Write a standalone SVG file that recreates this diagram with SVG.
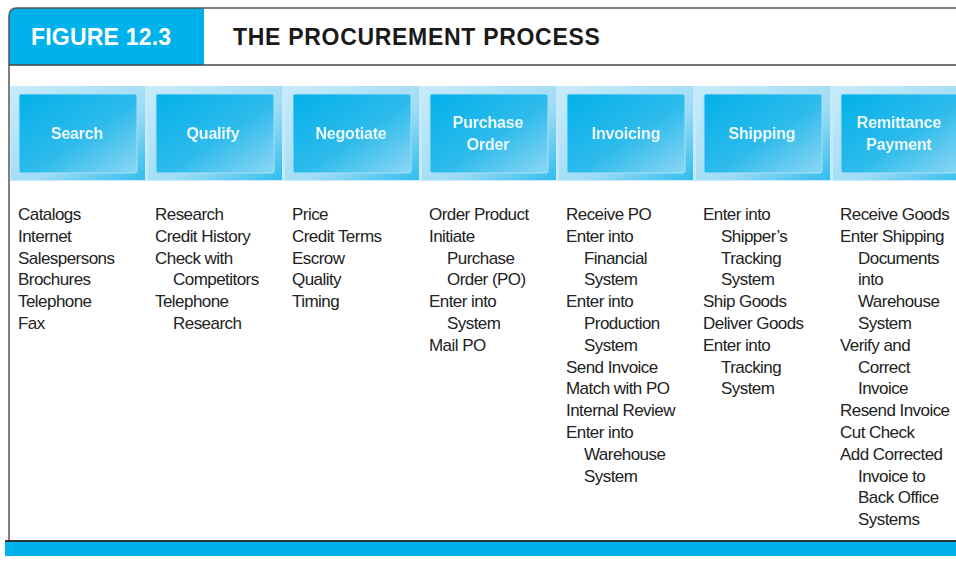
<svg xmlns="http://www.w3.org/2000/svg" width="956" height="564" viewBox="0 0 956 564">
<defs>
<linearGradient id="outerG" x1="0" y1="0" x2="1" y2="1">
<stop offset="0" stop-color="#c9ebfa"/>
<stop offset="0.6" stop-color="#9fdcf5"/>
<stop offset="1" stop-color="#2fbdee"/>
</linearGradient>
<linearGradient id="innerG" x1="0" y1="0" x2="1" y2="1">
<stop offset="0" stop-color="#03b0e9"/>
<stop offset="0.55" stop-color="#2ebbec"/>
<stop offset="1" stop-color="#8dd6f3"/>
</linearGradient>
<filter id="soft" x="-5%" y="-20%" width="110%" height="140%"><feGaussianBlur stdDeviation="0.5"/></filter>
</defs>
<style>
.hdr{font-family:"Liberation Sans",Arial,sans-serif;font-weight:bold;font-size:23px}
.lbl{font-family:"Liberation Sans",Arial,sans-serif;font-weight:bold;font-size:16px;fill:#eaf8fe;text-anchor:middle;letter-spacing:-0.2px}
.body{font-family:"Liberation Sans",Arial,sans-serif;font-size:17px;fill:#222;letter-spacing:-0.55px}
.outer{fill:url(#outerG)}
.inner{fill:url(#innerG);stroke:#a6e0f7;stroke-width:1}
</style>
<rect width="956" height="564" fill="#ffffff"/>
<!-- header -->
<path d="M9,65 V16 Q9,8 17,8 H204 V65 Z" fill="#00b2ec"/>
<path d="M9,541 V16 Q9,8 17,8 H956" fill="none" stroke="#555" stroke-width="1.5"/>
<line x1="9" y1="65" x2="956" y2="65" stroke="#444" stroke-width="1.5"/>
<text class="hdr" x="31" y="45" fill="#ffffff" letter-spacing="0.2">FIGURE 12.3</text>
<text class="hdr" x="233" y="45" fill="#1a1a1a" letter-spacing="0.7">THE PROCUREMENT PROCESS</text>
<!-- tile band -->
<rect x="10" y="86" width="946" height="95" fill="#c6eaf9"/>
<g id="tile-search"><rect class="outer" x="11" y="86" width="134" height="94"/><rect class="inner" x="19" y="94" width="118" height="79" rx="2"/><text class="lbl" x="77" y="139" filter="url(#soft)">Search</text></g>
<g id="tile-qualify"><rect class="outer" x="148" y="86" width="134" height="94"/><rect class="inner" x="156" y="94" width="118" height="79" rx="2"/><text class="lbl" x="213" y="139" filter="url(#soft)">Qualify</text></g>
<g id="tile-negotiate"><rect class="outer" x="285" y="86" width="134" height="94"/><rect class="inner" x="293" y="94" width="118" height="79" rx="2"/><text class="lbl" x="351" y="139" filter="url(#soft)">Negotiate</text></g>
<g id="tile-purchase-order"><rect class="outer" x="422" y="86" width="134" height="94"/><rect class="inner" x="430" y="94" width="118" height="79" rx="2"/><text class="lbl" x="488" y="128" filter="url(#soft)">Purchase</text><text class="lbl" x="488" y="150" filter="url(#soft)">Order</text></g>
<g id="tile-invoicing"><rect class="outer" x="559" y="86" width="134" height="94"/><rect class="inner" x="567" y="94" width="118" height="79" rx="2"/><text class="lbl" x="626" y="139" filter="url(#soft)">Invoicing</text></g>
<g id="tile-shipping"><rect class="outer" x="696" y="86" width="134" height="94"/><rect class="inner" x="704" y="94" width="118" height="79" rx="2"/><text class="lbl" x="762" y="139" filter="url(#soft)">Shipping</text></g>
<g id="tile-remittance"><rect class="outer" x="833" y="86" width="134" height="94"/><rect class="inner" x="841" y="94" width="118" height="79" rx="2"/><text class="lbl" x="899" y="128" filter="url(#soft)">Remittance</text><text class="lbl" x="899" y="150" filter="url(#soft)">Payment</text></g>
<!-- columns -->
<g id="col-search"><text class="body" y="220">
<tspan x="18">Catalogs</tspan><tspan x="18" dy="21.8">Internet</tspan><tspan x="18" dy="21.8">Salespersons</tspan><tspan x="18" dy="21.8">Brochures</tspan><tspan x="18" dy="21.8">Telephone</tspan><tspan x="18" dy="21.8">Fax</tspan></text></g>
<g id="col-qualify"><text class="body" y="220">
<tspan x="155">Research</tspan><tspan x="155" dy="21.8">Credit History</tspan><tspan x="155" dy="21.8">Check with</tspan><tspan x="173" dy="21.8">Competitors</tspan><tspan x="155" dy="21.8">Telephone</tspan><tspan x="173" dy="21.8">Research</tspan></text></g>
<g id="col-negotiate"><text class="body" y="220">
<tspan x="292">Price</tspan><tspan x="292" dy="21.8">Credit Terms</tspan><tspan x="292" dy="21.8">Escrow</tspan><tspan x="292" dy="21.8">Quality</tspan><tspan x="292" dy="21.8">Timing</tspan></text></g>
<g id="col-purchase-order"><text class="body" y="220">
<tspan x="429">Order Product</tspan><tspan x="429" dy="21.8">Initiate</tspan><tspan x="447" dy="21.8">Purchase</tspan><tspan x="447" dy="21.8">Order (PO)</tspan><tspan x="429" dy="21.8">Enter into</tspan><tspan x="447" dy="21.8">System</tspan><tspan x="429" dy="21.8">Mail PO</tspan></text></g>
<g id="col-invoicing"><text class="body" y="220">
<tspan x="566">Receive PO</tspan><tspan x="566" dy="21.8">Enter into</tspan><tspan x="584" dy="21.8">Financial</tspan><tspan x="584" dy="21.8">System</tspan><tspan x="566" dy="21.8">Enter into</tspan><tspan x="584" dy="21.8">Production</tspan><tspan x="584" dy="21.8">System</tspan><tspan x="566" dy="21.8">Send Invoice</tspan><tspan x="566" dy="21.8">Match with PO</tspan><tspan x="566" dy="21.8">Internal Review</tspan><tspan x="566" dy="21.8">Enter into</tspan><tspan x="584" dy="21.8">Warehouse</tspan><tspan x="584" dy="21.8">System</tspan></text></g>
<g id="col-shipping"><text class="body" y="220">
<tspan x="703">Enter into</tspan><tspan x="721" dy="21.8">Shipper’s</tspan><tspan x="721" dy="21.8">Tracking</tspan><tspan x="721" dy="21.8">System</tspan><tspan x="703" dy="21.8">Ship Goods</tspan><tspan x="703" dy="21.8">Deliver Goods</tspan><tspan x="703" dy="21.8">Enter into</tspan><tspan x="721" dy="21.8">Tracking</tspan><tspan x="721" dy="21.8">System</tspan></text></g>
<g id="col-remittance"><text class="body" y="220">
<tspan x="840">Receive Goods</tspan><tspan x="840" dy="21.8">Enter Shipping</tspan><tspan x="858" dy="21.8">Documents</tspan><tspan x="858" dy="21.8">into</tspan><tspan x="858" dy="21.8">Warehouse</tspan><tspan x="858" dy="21.8">System</tspan><tspan x="840" dy="21.8">Verify and</tspan><tspan x="858" dy="21.8">Correct</tspan><tspan x="858" dy="21.8">Invoice</tspan><tspan x="840" dy="21.8">Resend Invoice</tspan><tspan x="840" dy="21.8">Cut Check</tspan><tspan x="840" dy="21.8">Add Corrected</tspan><tspan x="858" dy="21.8">Invoice to</tspan><tspan x="858" dy="21.8">Back Office</tspan><tspan x="858" dy="21.8">Systems</tspan></text></g>
<!-- footer -->
<line x1="5" y1="541" x2="956" y2="541" stroke="#333" stroke-width="2"/>
<rect x="5" y="542" width="951" height="14" fill="#00b2ec"/>
</svg>
